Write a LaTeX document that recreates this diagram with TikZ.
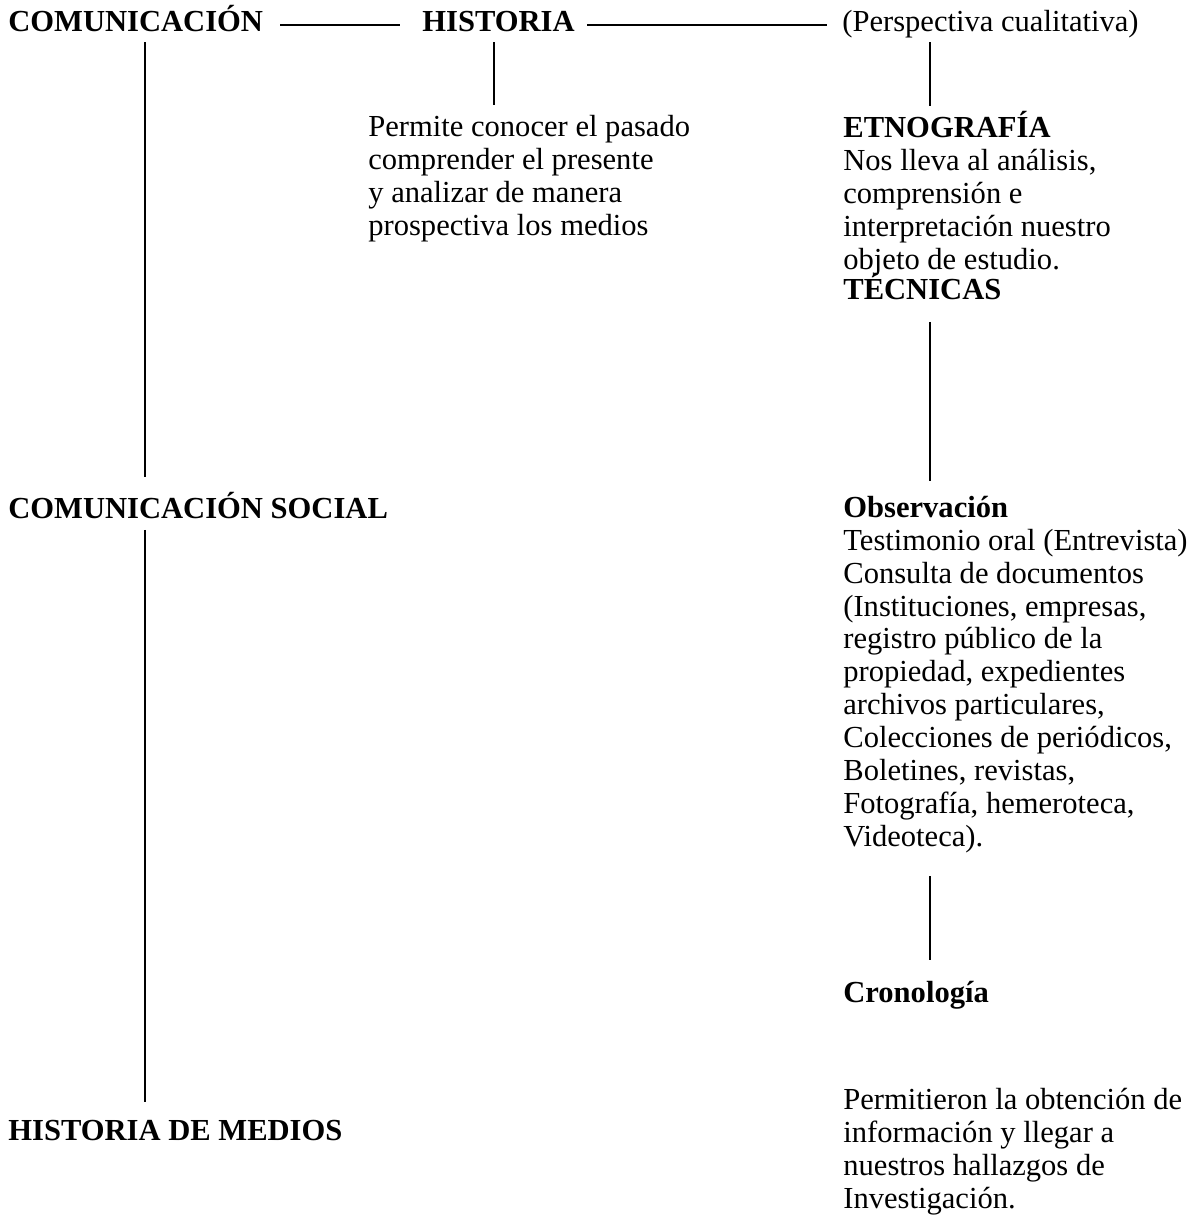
\documentclass[tikz,border=0pt]{standalone}
\usepackage{fontspec}
\setmainfont{Liberation Serif}
\usetikzlibrary{positioning}

\begin{document}
\begin{tikzpicture}[x=0.02cm,y=-0.02cm,
    every node/.style={inner sep=0pt,anchor=base west,
      font=\fontsize{17.4}{18.7}\selectfont},
    tit/.style={font=\fontsize{17.4}{18.7}\selectfont\bfseries},
    blk/.style={align=left},
    rule/.style={line width=1.1pt}]
    \useasboundingbox (0,0) rectangle (1193,1220);

    % columnas de las lineas verticales
    \coordinate (lx) at (145,0);
    \coordinate (mx) at (494,0);
    \coordinate (rx) at (930,0);

    % fila de arriba
    \node[tit] (com) at (8,32) {COMUNICACIÓN};
    \node[tit] (hist) at (422,32) {HISTORIA};
    \node (persp) at (842,32) {(Perspectiva cualitativa)};
    \draw[rule,shorten <=9.6pt,shorten >=12.5pt]
      ([yshift=1.5pt]com.mid east) -- ([yshift=1.5pt]hist.mid west);
    \draw[rule,shorten <=7pt,shorten >=8.5pt]
      ([yshift=1.5pt]hist.mid east) -- ([yshift=1.5pt]persp.mid west);

    % columna izquierda
    \node[tit] (comsoc) at (8,518) {COMUNICACIÓN SOCIAL};
    \node[tit] (medios) at (8,1140) {HISTORIA DE MEDIOS};
    \draw[rule,shorten <=5.7pt,shorten >=23.2pt] (com.base -| lx) -- (comsoc.base -| lx);
    \draw[rule,shorten <=6.8pt,shorten >=21.5pt] (comsoc.base -| lx) -- (medios.base -| lx);

    % historia (base = ultima linea del bloque)
    \node[blk] (pasado) at (368,235) {Permite conocer el pasado\\
      comprender el presente\\ y analizar de manera\\
      prospectiva los medios};
    \draw[rule,shorten <=5.7pt,shorten >=5.7pt] (hist.base -| mx) -- (pasado.north -| mx);

    % columna derecha
    \node[blk] (etno) at (843,269) {\textbf{ETNOGRAFÍA}\\
      Nos lleva al análisis,\\ comprensión e\\
      interpretación nuestro\\ objeto de estudio.};
    \node[tit] (tec) at (843,299) {TÉCNICAS};
    \node[tit] (obsv) at (843,517) {Observación};
    \node[blk] (tecn) at (843,846) {Testimonio oral (Entrevista)\\
      Consulta de documentos\\ (Instituciones, empresas,\\
      registro público de la\\ propiedad, expedientes\\
      archivos particulares,\\ Colecciones de periódicos,\\
      Boletines, revistas,\\ Fotografía, hemeroteca,\\ Videoteca).};
    \node[tit] (cron) at (843,1002) {Cronología};
    \node[blk] (hallaz) at (843,1208) {Permitieron la obtención de\\
      información y llegar a\\ nuestros hallazgos de\\ Investigación.};
    \draw[rule,shorten <=5.7pt,shorten >=2.8pt] (persp.base -| rx) -- (etno.north -| rx);
    \draw[rule,shorten <=13pt,shorten >=20.4pt] (tec.base -| rx) -- (obsv.base -| rx);
    \draw[rule,shorten <=13.3pt,shorten >=23.8pt] (tecn.south -| rx) -- (cron.base -| rx);
\end{tikzpicture}
\end{document}
